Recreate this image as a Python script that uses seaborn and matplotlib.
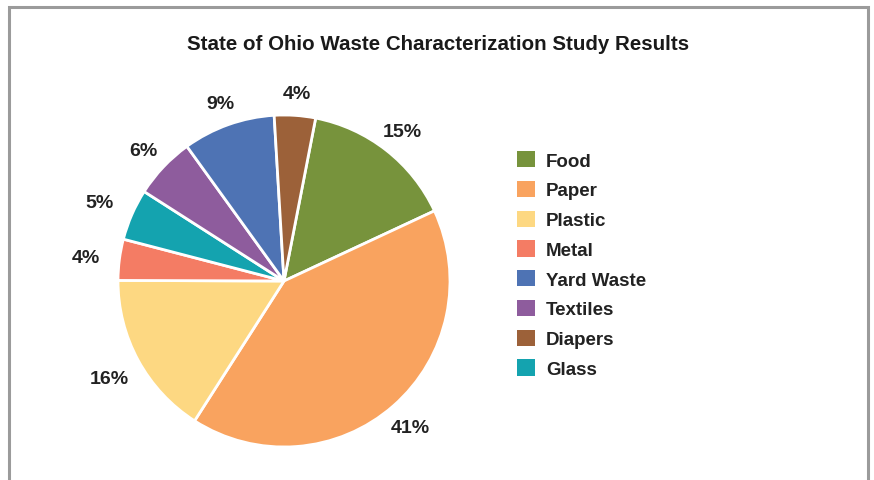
import matplotlib
matplotlib.use("Agg")
import numpy as np
import matplotlib.pyplot as plt
from matplotlib.patches import Patch, Rectangle
import seaborn as sns

# Waste categories in the order the slices run clockwise from the top
categories = ["Food", "Paper", "Plastic", "Metal", "Glass", "Textiles", "Yard Waste", "Diapers"]
shares = [15, 41, 16, 4, 5, 6, 9, 4]
# Order in which the categories are listed in the legend
legend_order = ["Food", "Paper", "Plastic", "Metal", "Yard Waste", "Textiles", "Diapers", "Glass"]

colors = {
    "Food": "#77933C",
    "Paper": "#F9A35F",
    "Plastic": "#FDD882",
    "Metal": "#F47C64",
    "Glass": "#14A3AF",
    "Textiles": "#8E5C9D",
    "Yard Waste": "#4E73B4",
    "Diapers": "#9C6139",
}

sns.set_theme(style="white")
plt.rcParams["font.family"] = ["Liberation Sans", "DejaVu Sans"]

W, H = 874, 481
fig = plt.figure(figsize=(W / 100, H / 100), dpi=100)
fig.patch.set_facecolor("white")

# Grey frame around the chart (bottom edge runs off the canvas)
fig.patches.append(Rectangle((9 / W, -0.05), (868 - 9) / W, 1.05 - 8 / H,
                             transform=fig.transFigure, fill=False,
                             edgecolor="#9b9b9b", linewidth=2.2))

cx, cy, r = 284, 282, 166
ax = fig.add_axes([(cx - r) / W, (H - cy - r) / H, 2 * r / W, 2 * r / H])
pal = sns.color_palette([colors[c] for c in categories])
# First slice begins 11 degrees clockwise from 12 o'clock
wedges, _, autotexts = ax.pie(
    shares, colors=pal, startangle=79, counterclock=False,
    autopct=lambda p: f"{p:.0f}%", pctdistance=1.2,
    wedgeprops=dict(edgecolor="white", linewidth=2.0),
    textprops=dict(fontsize=14, color="#222222", fontweight="bold"),
)
ax.set_xlim(-1, 1)
ax.set_ylim(-1, 1)
ax.set_aspect("auto")
ax.axis("off")

# Put each percentage just outside the rim: the nearest edge of its (padded)
# text box sits a fixed gap beyond the wedge, along the wedge's mid-angle.
gap, pad_x = 15, 5
fig.canvas.draw()
renderer = fig.canvas.get_renderer()
for w, t in zip(wedges, autotexts):
    mid = np.deg2rad((w.theta1 + w.theta2) / 2)
    ux, uy = np.cos(mid), np.sin(mid)
    bb = t.get_window_extent(renderer)
    hw, hh = bb.width / 2 + pad_x, bb.height / 2
    reach = min(hw / max(abs(ux), 1e-6), hh / max(abs(uy), 1e-6))
    d = (r + gap + reach) / r
    t.set_position((d * ux, d * uy))
    t.set_ha("center")
    t.set_va("center_baseline")

fig.text(438 / W, 1 - 44 / H, "State of Ohio Waste Characterization Study Results",
         ha="center", va="center", fontsize=14.8, fontweight="bold", color="#1a1a1a")

handles = [Patch(facecolor=colors[c], edgecolor="none") for c in legend_order]
fig.legend(handles, legend_order, loc="upper left",
           bbox_to_anchor=(517 / W, 1 - 152 / H), frameon=False,
           borderpad=0, borderaxespad=0, handlelength=0.95, handleheight=0.95,
           handletextpad=0.6, labelspacing=0.6,
           prop=dict(size=13.5, weight="bold"), labelcolor="#222222")

fig.savefig("out.png", dpi=100)
